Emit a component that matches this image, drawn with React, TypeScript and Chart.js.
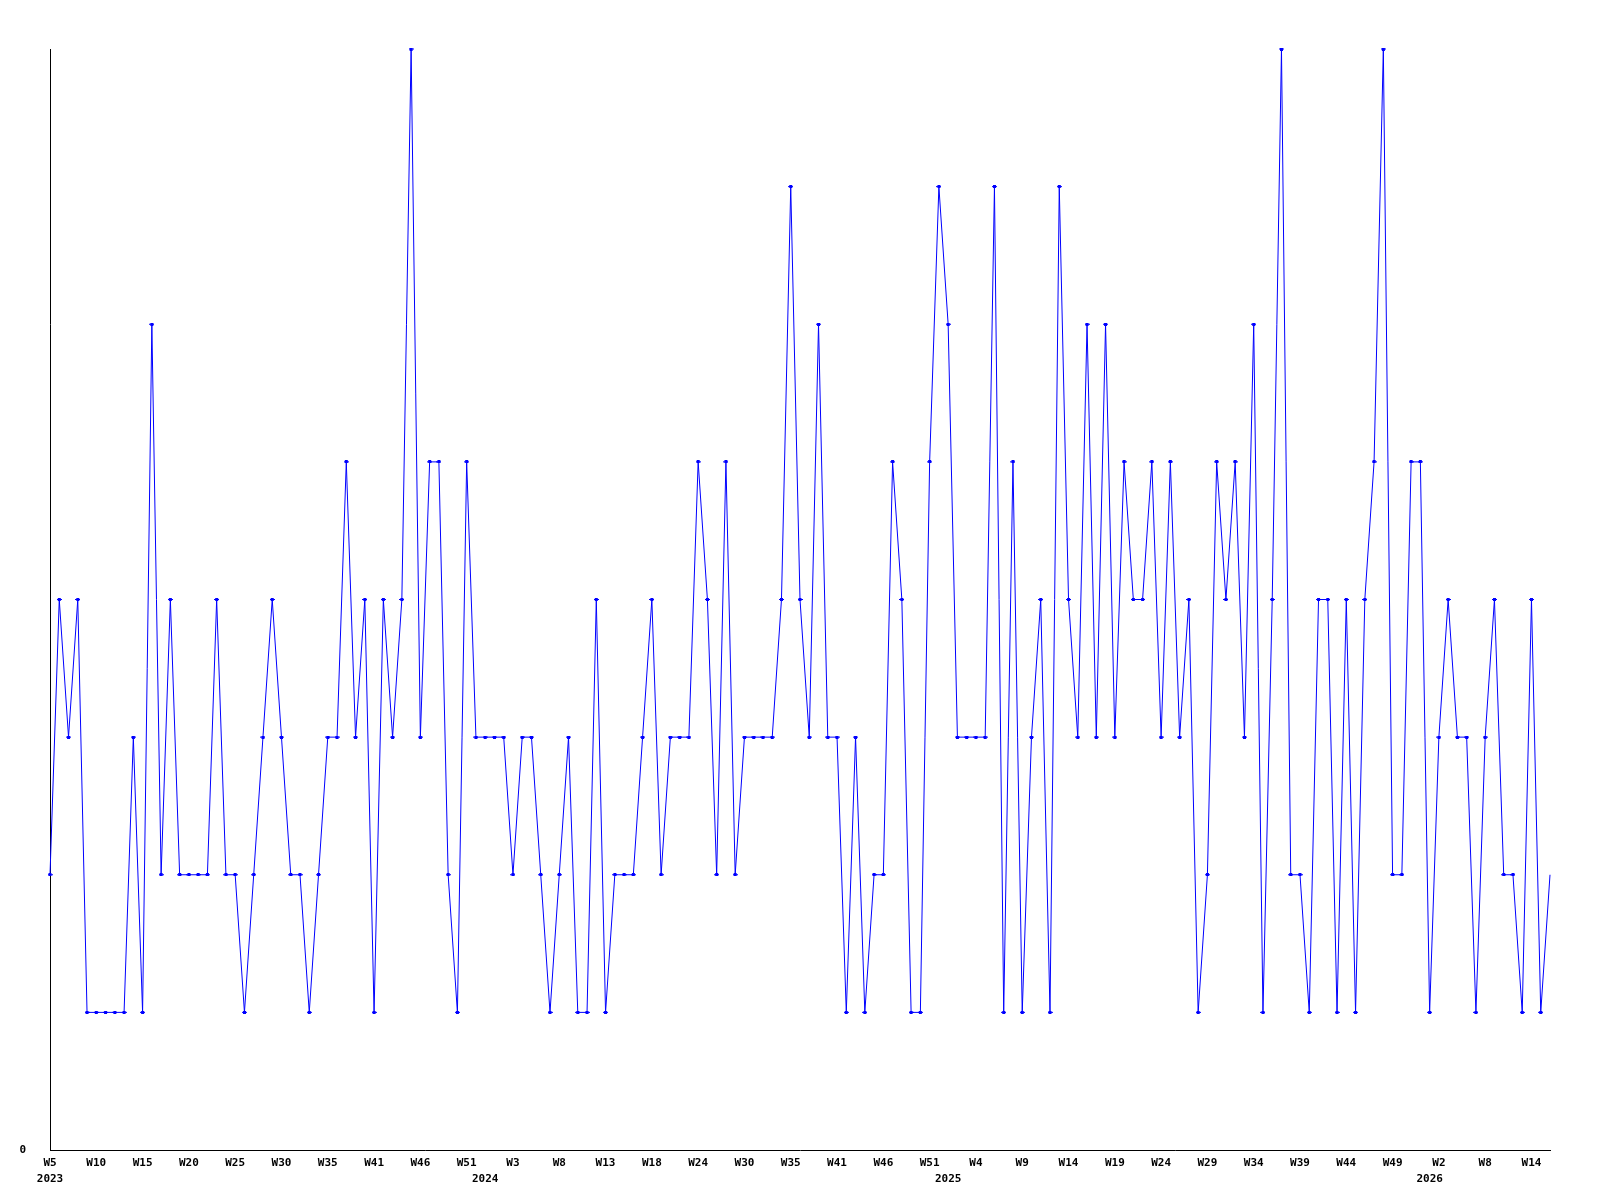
import React, { useEffect, useRef } from "react";
import { Chart, registerables } from "chart.js";

Chart.register(...registerables);

// Category per data point (week of year)
const weekLabels: string[] = [
  // 2023
  "W5", "W6", "W7", "W8", "W9", "W10", "W11", "W12", "W13", "W14",
  "W15", "W16", "W17", "W18", "W19", "W20", "W21", "W22", "W23", "W24",
  "W25", "W26", "W27", "W28", "W29", "W30", "W31", "W32", "W33", "W34",
  "W35", "W36", "W37", "W39", "W40", "W41", "W42", "W43", "W44", "W45",
  "W46", "W47", "W48", "W49", "W50", "W51", "W52",
  // 2024
  "W0", "W1", "W2", "W3", "W4", "W5", "W6", "W7", "W8", "W9",
  "W10", "W11", "W12", "W13", "W14", "W15", "W16", "W17", "W18", "W19",
  "W20", "W22", "W23", "W24", "W25", "W26", "W27", "W29", "W30", "W31",
  "W32", "W33", "W34", "W35", "W36", "W37", "W38", "W40", "W41", "W42",
  "W43", "W44", "W45", "W46", "W47", "W48", "W49", "W50", "W51", "W52",
  // 2025
  "W1", "W2", "W3", "W4", "W5", "W6", "W7", "W8", "W9", "W10",
  "W11", "W12", "W13", "W14", "W15", "W16", "W17", "W18", "W19", "W20",
  "W21", "W22", "W23", "W24", "W25", "W26", "W27", "W28", "W29", "W30",
  "W31", "W32", "W33", "W34", "W35", "W36", "W37", "W38", "W39", "W40",
  "W41", "W42", "W43", "W44", "W45", "W46", "W47", "W48", "W49", "W50",
  "W51", "W52",
  // 2026
  "W1", "W2", "W3", "W4", "W5", "W7", "W8", "W9", "W10", "W12",
  "W13", "W14", "W15", "W16",
];

const years: string[] = ["2023", "2024", "2025", "2026"];

const values: number[] = [
  2, 4, 3, 4, 1, 1, 1, 1, 1, 3,
  1, 6, 2, 4, 2, 2, 2, 2, 4, 2,
  2, 1, 2, 3, 4, 3, 2, 2, 1, 2,
  3, 3, 5, 3, 4, 1, 4, 3, 4, 8,
  3, 5, 5, 2, 1, 5, 3, 3, 3, 3,
  2, 3, 3, 2, 1, 2, 3, 1, 1, 4,
  1, 2, 2, 2, 3, 4, 2, 3, 3, 3,
  5, 4, 2, 5, 2, 3, 3, 3, 3, 4,
  7, 4, 3, 6, 3, 3, 1, 3, 1, 2,
  2, 5, 4, 1, 1, 5, 7, 6, 3, 3,
  3, 3, 7, 1, 5, 1, 3, 4, 1, 7,
  4, 3, 6, 3, 6, 3, 5, 4, 4, 5,
  3, 5, 3, 4, 1, 2, 5, 4, 5, 3,
  6, 1, 4, 8, 2, 2, 1, 4, 4, 1,
  4, 1, 4, 5, 8, 2, 2, 5, 5, 1,
  3, 4, 3, 3, 1, 3, 4, 2, 2, 1,
  4, 1, 2,
];

const yMin = 0;
const yMax = 8;
const labelEvery = 5;

// year label placed at the first point of each year
function yearAtIndex(): Record<number, string> {
  const out: Record<number, string> = {};
  let y = 0;
  out[0] = years[0];
  for (let i = 1; i < weekLabels.length; i++) {
    const prev = parseInt(weekLabels[i - 1].slice(1), 10);
    const cur = parseInt(weekLabels[i].slice(1), 10);
    if (cur < prev) {
      y += 1;
      out[i] = years[y];
    }
  }
  return out;
}

export default function App() {
  const ref = useRef<HTMLCanvasElement | null>(null);

  useEffect(() => {
    if (!ref.current) return;
    const yearMap = yearAtIndex();

    const marker = document.createElement("canvas");
    marker.width = 5;
    marker.height = 3;
    const mctx = marker.getContext("2d")!;
    mctx.fillStyle = "#0000ff";
    mctx.fillRect(1, 0, 3, 3);
    mctx.fillRect(0, 1, 5, 1);

    const font = { family: "'DejaVu Sans Mono', monospace", size: 11, weight: "bold" as const, lineHeight: 16 / 11 };

    const chart = new Chart(ref.current, {
      type: "line",
      data: {
        labels: weekLabels,
        datasets: [
          {
            data: values,
            borderColor: "#0000ff",
            backgroundColor: "#0000ff",
            borderWidth: 1,
            tension: 0,
            fill: false,
            clip: false as any,
            pointStyle: marker as any,
            pointRadius: (c: any) => (c.dataIndex === values.length - 1 ? 0 : 3),
            pointHoverRadius: 3,
          },
        ],
      },
      options: {
        animation: false,
        responsive: false,
        devicePixelRatio: 1,
        events: [],
        layout: { padding: { left: 0, right: 42, top: 41, bottom: 0 } },
        plugins: {
          legend: { display: false },
          tooltip: { enabled: false },
          title: { display: false },
        },
        scales: {
          x: {
            type: "category",
            offset: false,
            grid: { display: false, drawTicks: false },
            border: { display: true, color: "#000000", width: 1 },
            afterFit: (s: any) => {
              s.height = 42;
            },
            ticks: {
              autoSkip: false,
              maxRotation: 0,
              minRotation: 0,
              padding: 5,
              color: "#000000",
              font,
              callback: (_v: any, i: number) => {
                const wk = i % labelEvery === 0 ? weekLabels[i] : "";
                const yr = yearMap[i];
                if (yr) return [wk, yr];
                return wk;
              },
            },
          },
          y: {
            min: yMin,
            max: yMax,
            grid: { display: false, drawTicks: false },
            border: { display: true, color: "#000000", width: 1 },
            afterFit: (s: any) => {
              s.width = 42;
            },
            afterBuildTicks: (s: any) => {
              s.ticks = [{ value: yMin }];
            },
            ticks: {
              padding: 24,
              color: "#000000",
              font,
              callback: (v: any) => String(v),
            },
          },
        },
      },
    });
    return () => chart.destroy();
  }, []);

  return (
    <div style={{ width: 1584, height: 1184 }}>
      <canvas ref={ref} width={1584} height={1184} style={{ display: "block", width: 1584, height: 1184 }} />
    </div>
  );
}
